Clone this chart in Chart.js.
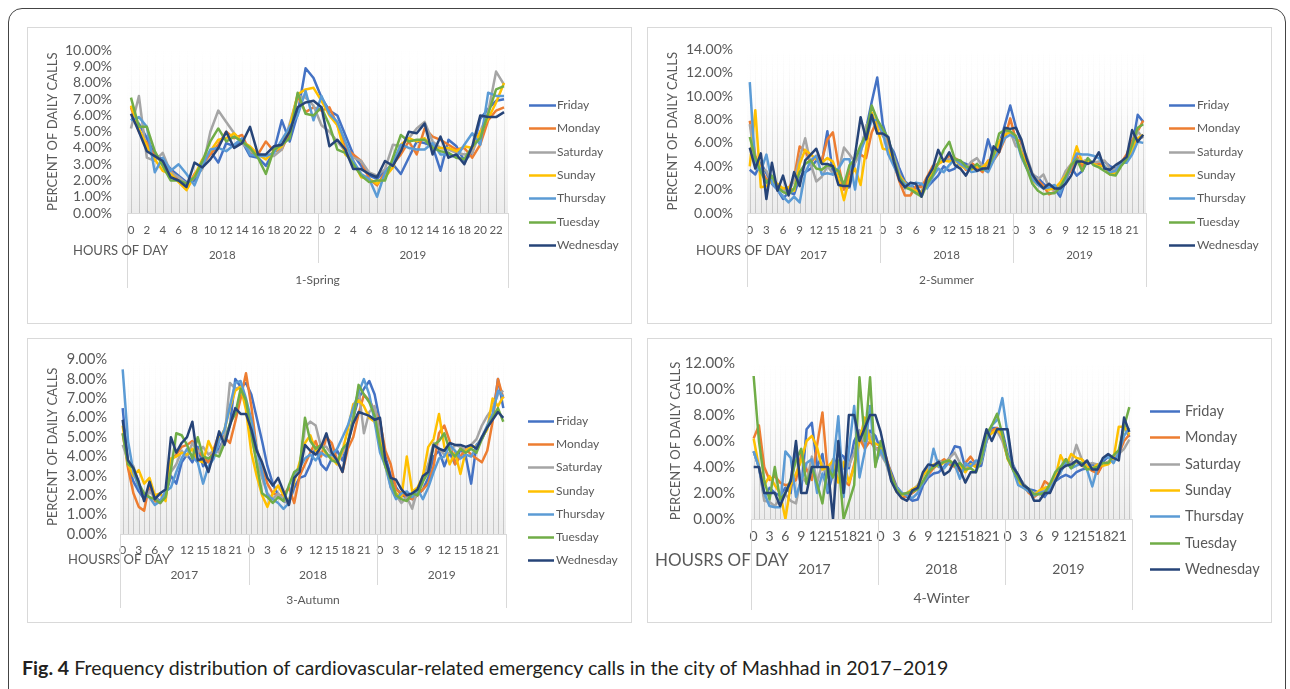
<!DOCTYPE html>
<html>
<head>
<meta charset="utf-8">
<script src="https://cdn.jsdelivr.net/npm/chart.js@4.4.1/dist/chart.umd.min.js"></script>
<style>
  html, body { margin: 0; padding: 0; background: #fff; }
  body { width: 1290px; height: 689px; position: relative; overflow: hidden; font-family: Lato, sans-serif; }
  .frame { position: absolute; left: 8px; top: 8px; width: 1276px; height: 720px; border: 1px solid #444; border-radius: 14px; }
  .panel { position: absolute; border: 1px solid #d9d9d9; box-sizing: border-box; background: #fff; }
  canvas { position: absolute; }
  .caption { position: absolute; left: 22px; top: 656px; font-size: 19.6px; line-height: 24px; color: #231f20; white-space: nowrap; }
</style>
</head>
<body>
<div class="frame"></div>
<div class="caption"><b>Fig. 4</b> Frequency distribution of cardiovascular-related emergency calls in the city of Mashhad in 2017–2019</div>
<script>
// series names and colours (Excel office palette)
var days = ['Friday', 'Monday', 'Saturday', 'Sunday', 'Thursday', 'Tuesday', 'Wednesday'];
var dayColors = ['#4472C4', '#ED7D31', '#A5A5A5', '#FFC000', '#5B9BD5', '#70AD47', '#264478'];

var hours = ['0','1','2','3','4','5','6','7','8','9','10','11','12','13','14','15','16','17','18','19','20','21','22','23'];
var springYears = ['2018', '2019'];
var otherYears = ['2017', '2018', '2019'];

// ---- 1-Spring (2018, 2019) ----
var springFri = [5.8,5.5,4.6,3.6,3.3,2.7,2.3,1.9,2.0,2.9,3.8,3.1,4.3,4.1,4.4,3.5,3.4,2.9,3.8,5.7,4.4,6.1,8.9,8.3,
                 7.1,6.3,6.0,4.8,3.6,2.9,2.3,2.1,2.6,3.0,2.4,3.4,4.4,4.3,4.1,2.6,4.5,4.1,3.2,3.7,5.8,6.4,6.9,7.0];
var springMon = [6.5,5.0,4.3,3.5,3.2,2.6,2.0,1.5,2.4,3.0,3.6,4.2,5.0,4.6,4.8,3.7,3.6,4.4,3.8,3.9,5.0,7.2,6.2,6.5,
                 6.3,6.5,5.4,4.0,3.6,3.2,2.1,1.7,2.5,3.0,3.6,4.4,3.6,5.2,4.7,4.5,4.2,3.9,4.0,3.4,4.2,5.7,6.3,6.5];
var springSat = [5.2,7.2,3.4,3.2,3.7,2.5,2.2,1.8,2.2,2.7,5.0,6.3,5.6,4.9,4.3,3.8,3.6,3.5,3.5,3.9,5.5,7.2,7.1,6.6,
                 5.4,5.0,4.4,3.8,3.4,3.2,2.5,2.3,2.7,4.2,4.1,4.6,5.2,5.6,4.4,4.0,3.9,3.7,3.6,3.7,5.0,6.2,8.7,7.9];
var springSun = [6.6,5.2,4.1,3.3,2.6,2.4,1.9,1.4,2.3,3.3,3.8,4.5,4.6,4.9,4.4,4.1,3.6,3.3,3.8,4.1,5.3,7.3,7.6,7.7,
                 6.9,6.0,5.4,3.6,3.2,2.2,2.1,1.8,2.2,2.8,4.2,4.6,4.4,4.6,4.0,4.0,4.0,3.8,4.1,4.0,5.0,5.8,6.8,8.0];
var springThu = [5.7,5.9,5.3,2.5,3.4,2.6,3.0,2.4,1.7,2.9,3.9,4.0,3.8,4.2,4.6,3.6,3.5,3.5,3.7,4.5,5.3,6.0,7.5,5.7,
                 7.2,6.1,5.6,4.4,3.2,2.4,2.1,1.0,2.5,3.1,4.2,4.0,3.9,3.9,4.3,3.6,3.6,3.4,4.2,4.9,4.2,7.4,7.2,7.2];
var springTue = [7.1,5.3,5.3,3.8,2.9,2.0,2.0,1.8,2.2,3.2,4.4,5.2,4.4,4.7,4.4,4.0,3.4,2.4,3.9,4.2,4.6,7.4,6.1,6.0,
                 6.5,5.4,3.9,3.7,3.0,2.3,1.9,2.0,2.0,3.4,4.8,4.4,4.5,4.5,4.0,3.8,3.7,3.4,3.3,4.1,4.6,6.1,7.6,7.8];
var springWed = [6.1,5.0,3.8,3.5,3.2,2.2,2.0,1.6,3.1,2.8,3.3,4.0,5.0,4.0,4.3,5.3,3.6,3.6,4.1,4.2,5.0,6.5,6.8,6.9,
                 6.5,4.1,4.5,3.9,2.7,2.7,2.4,2.2,3.2,2.9,3.8,5.0,4.9,5.5,3.6,4.7,3.4,3.6,3.0,4.1,6.0,5.9,5.9,6.2];

// ---- 2-Summer (2017, 2018, 2019) ----
var summerFri = [3.7,3.3,4.3,3.4,2.5,2.0,1.2,1.8,1.6,3.0,3.5,3.8,4.5,4.3,7.0,3.3,3.5,2.1,2.2,4.5,5.5,7.2,9.5,11.6,
                 7.6,6.0,5.2,3.8,2.7,2.3,2.1,2.5,2.2,2.7,3.2,4.0,3.6,3.8,4.4,4.2,3.9,3.7,4.2,6.3,4.8,5.8,7.5,9.2,
                 7.4,6.0,4.0,3.3,3.0,2.5,2.1,2.1,1.4,2.8,3.9,3.2,3.6,4.5,4.3,4.1,4.4,4.0,3.8,4.2,4.6,5.6,8.4,7.8];
var summerMon = [7.9,4.9,3.7,2.9,2.7,2.2,2.0,2.1,3.0,5.7,5.3,4.3,4.9,4.5,6.3,6.9,4.1,2.0,3.5,4.7,5.0,4.7,6.9,7.9,
                 6.6,6.1,4.2,2.7,1.5,1.5,2.3,2.2,3.1,4.0,4.2,4.5,4.9,4.7,4.4,3.7,4.3,3.9,3.5,4.5,4.5,5.2,6.3,8.1,
                 6.3,6.1,4.2,3.0,2.8,2.3,1.6,1.8,2.2,3.0,3.7,4.9,4.0,4.5,4.3,4.3,4.0,3.5,3.6,4.3,5.0,6.2,7.0,7.9];
var summerSat = [7.6,4.3,3.8,3.6,2.6,2.1,2.0,1.8,2.8,4.7,6.4,4.2,2.7,3.1,4.0,3.4,3.6,5.6,5.0,4.3,5.1,7.5,8.0,7.5,
                 7.0,5.5,4.8,3.4,2.1,2.4,1.7,1.9,2.5,3.8,4.2,4.5,4.6,4.6,4.1,3.8,4.4,4.7,4.0,4.3,4.6,5.6,6.9,7.0,
                 5.7,5.7,4.8,3.4,2.9,3.3,2.2,1.9,2.5,3.6,4.2,4.6,4.4,4.6,4.3,4.4,4.5,3.8,3.7,4.4,4.7,5.4,7.0,6.4];
var summerSun = [4.0,8.8,2.2,2.3,2.8,2.5,2.1,2.2,1.9,4.2,5.4,5.0,4.6,4.3,4.7,4.4,3.0,1.1,3.0,3.8,2.4,5.5,8.6,7.3,
                 5.5,5.4,4.3,3.2,2.6,2.1,1.9,1.7,2.7,3.5,4.2,4.5,4.4,4.5,4.1,3.8,3.7,4.0,3.9,4.4,4.8,6.1,6.7,6.9,
                 6.6,5.2,4.0,2.8,2.4,2.2,2.0,2.1,2.6,3.2,4.1,5.7,4.3,4.5,4.2,4.0,4.0,3.3,3.4,4.4,4.4,5.4,6.4,6.7];
var summerThu = [11.2,3.9,3.6,5.0,2.6,2.0,1.4,0.9,1.4,0.9,3.4,4.5,4.9,3.3,3.4,3.3,3.8,4.6,4.6,2.0,5.3,6.5,7.9,8.0,
                 6.8,5.0,4.0,3.0,2.5,2.3,2.6,2.5,2.1,3.1,3.8,3.5,4.1,4.6,4.2,3.9,3.5,3.6,3.8,3.5,4.5,5.4,6.4,6.7,
                 6.4,4.8,3.8,2.9,2.4,2.1,2.2,2.4,1.7,2.9,4.0,5.1,5.0,5.0,4.9,4.7,4.0,3.5,3.6,4.3,4.3,5.0,6.1,6.0];
var summerTue = [6.5,4.7,3.5,2.6,3.2,2.2,1.8,1.6,2.1,3.5,4.2,4.5,3.8,3.7,4.1,3.9,3.6,2.4,4.1,4.6,5.8,6.7,9.2,8.0,
                 7.2,6.4,4.6,3.1,2.2,2.0,1.7,1.4,2.5,3.2,4.3,5.4,6.1,4.6,4.5,4.0,3.8,4.2,3.7,3.9,5.0,6.8,7.1,7.0,
                 6.6,5.0,3.8,2.5,1.9,1.6,1.7,1.7,2.2,3.1,4.1,4.6,3.6,4.7,4.1,3.9,3.6,3.3,3.2,4.0,4.6,5.8,7.3,7.6];
var summerWed = [5.6,3.8,5.1,1.2,4.3,1.9,3.2,1.5,3.5,2.3,4.5,5.0,5.5,4.2,4.2,4.0,2.4,2.3,2.3,5.0,8.2,6.3,8.4,6.8,
                 6.8,6.5,4.4,2.8,2.2,2.6,2.5,1.4,3.0,3.8,5.4,4.4,5.2,4.1,3.8,3.2,4.1,3.6,3.8,3.8,5.7,5.2,7.3,7.2,
                 7.3,6.3,4.6,3.3,2.6,2.1,2.5,2.1,2.1,2.5,3.2,4.4,4.4,4.2,4.4,5.2,3.8,3.7,4.1,4.4,4.8,7.1,6.1,6.7];

// ---- 3-Autumn (2017, 2018, 2019) ----
var autumnFri = [6.5,3.5,2.7,2.2,1.8,2.4,1.9,1.7,2.0,3.0,2.6,3.7,4.1,3.7,4.5,3.5,3.8,4.2,4.4,5.0,5.6,8.0,7.6,7.8,
                 7.2,6.0,4.8,3.5,2.6,2.0,1.7,1.6,2.4,2.9,3.0,3.6,4.5,3.6,3.3,3.9,4.3,3.8,4.7,6.0,7.0,7.5,7.9,7.2,
                 5.8,4.0,3.0,2.4,2.0,1.9,1.8,2.0,2.3,2.9,4.0,4.3,3.5,4.2,3.6,4.4,4.0,2.6,4.6,4.9,5.5,6.0,8.0,6.5];
var autumnMon = [5.2,3.4,2.1,1.4,1.2,2.6,1.7,1.6,2.0,3.8,4.1,4.5,4.6,4.8,4.3,4.0,3.7,4.4,5.2,5.0,4.7,5.8,7.0,8.3,
                 6.6,4.4,3.5,2.6,2.1,2.0,2.0,2.4,1.6,3.0,3.6,4.2,4.8,4.0,5.0,4.7,3.8,3.2,4.4,5.0,6.2,7.2,6.9,6.4,
                 5.8,4.3,3.6,2.3,2.1,1.9,1.8,2.0,2.3,2.6,3.5,5.2,5.6,4.8,3.6,4.0,4.4,4.1,3.9,3.7,4.3,5.8,8.0,7.0];
var autumnSat = [4.6,3.8,3.5,2.6,1.8,2.2,1.9,1.6,2.1,3.2,3.6,4.3,4.0,4.7,4.2,4.5,4.1,4.3,4.2,5.0,7.8,7.5,7.6,6.8,
                 5.0,3.8,2.9,2.1,1.8,2.1,1.8,1.5,3.0,3.5,5.5,5.8,5.6,4.5,4.5,4.1,3.6,4.2,4.6,6.0,7.5,5.2,6.3,6.6,
                 5.1,3.8,2.4,2.0,1.6,1.9,1.3,2.3,2.9,3.6,4.7,4.4,4.1,4.2,4.6,4.5,4.3,4.6,4.9,5.6,6.1,6.5,7.2,7.4];
var autumnSun = [5.6,3.6,3.0,3.3,2.6,2.9,2.0,2.1,1.7,3.9,4.0,4.2,4.1,4.4,3.8,3.7,4.8,4.2,4.9,5.4,6.5,7.4,7.6,6.4,
                 4.2,3.0,2.0,1.4,2.1,2.5,2.0,1.7,2.7,3.7,4.7,5.1,4.3,4.6,4.1,3.9,3.6,4.3,5.4,6.7,6.9,6.6,6.0,5.8,
                 4.8,3.5,2.6,2.1,1.9,4.0,2.2,2.4,3.0,4.5,4.9,6.2,4.5,3.6,4.2,3.1,4.3,4.5,4.5,5.0,5.4,7.0,6.6,7.1];
var autumnThu = [8.5,4.8,3.2,2.4,2.0,1.9,1.5,1.7,2.2,2.4,3.2,3.9,4.4,4.0,3.7,2.6,3.5,3.9,4.8,5.4,6.6,7.8,7.9,7.0,
                 5.9,4.4,3.2,2.0,1.8,1.6,1.3,1.6,3.1,3.4,3.9,4.1,3.8,4.2,4.0,4.1,4.4,5.0,5.6,6.5,7.3,8.0,7.2,5.8,
                 4.2,3.5,2.4,1.8,2.1,2.2,1.9,2.3,1.8,2.4,3.2,3.9,4.0,4.6,4.3,3.9,4.1,4.0,4.5,5.0,5.6,6.2,7.4,7.1];
var autumnTue = [5.2,3.6,3.4,2.6,2.1,1.9,1.8,1.6,1.9,3.3,5.2,5.1,4.6,3.9,5.0,4.0,3.9,4.1,4.0,4.7,5.7,6.2,7.5,6.9,
                 5.2,3.6,2.1,1.9,1.6,1.9,1.7,2.5,3.2,3.4,6.0,4.8,4.4,4.6,4.2,3.8,3.7,4.4,4.7,5.9,7.7,7.2,6.8,6.1,
                 4.6,3.5,2.8,2.0,1.8,1.7,2.1,2.0,2.7,3.2,4.6,4.8,5.2,4.3,4.0,4.4,4.2,4.4,4.2,4.9,5.5,6.0,6.5,5.8];
var autumnWed = [5.9,3.8,3.4,2.7,1.7,2.7,1.8,2.1,2.3,5.0,4.2,4.7,5.0,5.8,3.8,3.9,3.2,4.2,5.3,4.6,5.6,6.5,6.2,6.2,
                 5.4,4.3,3.7,2.9,2.5,2.9,2.2,1.5,2.9,3.2,4.6,4.3,4.1,4.5,5.2,4.2,3.8,3.2,4.7,5.7,6.3,6.2,6.1,5.9,
                 6.0,3.8,2.9,2.8,2.3,2.0,2.1,2.3,3.0,3.2,4.6,4.4,4.3,4.7,4.6,4.6,4.5,4.6,4.4,5.0,5.5,5.9,6.3,6.0];

// ---- 4-Winter (2017, 2018, 2019) ----
var winterFri = [5.2,4.0,1.7,2.4,2.0,1.8,2.4,2.0,5.6,2.2,6.9,7.4,4.0,5.0,2.0,3.5,5.1,4.8,3.9,6.0,6.8,5.6,6.8,6.4,
                 5.3,4.6,3.6,2.5,2.0,1.7,1.4,1.5,2.6,3.2,3.5,3.6,4.0,4.7,5.6,5.5,3.9,4.4,4.0,4.1,6.0,7.0,7.0,6.8,
                 5.0,4.2,3.3,2.7,2.3,2.2,2.0,1.7,2.3,2.9,3.2,3.4,3.2,3.6,3.8,3.9,4.3,3.5,4.4,4.8,4.7,4.9,7.2,6.3];
var winterMon = [6.2,7.2,4.0,3.0,3.3,2.8,2.6,2.7,3.0,5.0,3.8,3.0,5.7,8.2,3.5,4.0,4.2,3.0,2.6,4.2,6.2,5.4,6.0,5.4,
                 5.5,4.8,3.4,2.4,1.6,1.8,2.0,2.3,2.8,3.4,3.9,4.3,4.6,4.2,4.0,3.7,4.3,4.8,4.2,4.6,6.0,6.8,7.0,6.4,
                 4.7,3.8,3.0,2.6,2.0,1.7,2.0,2.9,2.6,3.2,3.7,4.6,4.3,4.4,4.1,4.0,3.7,3.5,4.2,4.4,4.6,5.0,6.0,6.5];
var winterSat = [5.2,4.0,1.4,1.3,1.0,1.6,1.9,1.4,1.2,3.3,2.8,4.8,2.8,4.3,3.2,4.6,3.7,3.9,4.1,5.1,6.8,5.8,6.5,5.5,
                 5.0,4.3,3.0,2.4,1.9,2.0,2.2,2.6,3.3,4.0,4.1,4.5,4.3,4.7,5.1,4.3,3.9,4.2,4.3,4.5,6.2,6.6,6.8,6.0,
                 4.8,4.1,3.2,2.7,2.2,2.0,2.1,2.2,2.5,3.0,3.6,4.4,4.3,5.7,4.6,4.2,4.3,4.2,4.2,4.4,4.6,5.0,5.4,6.1];
var winterSun = [6.2,4.0,2.6,3.3,2.6,2.0,0.0,2.6,3.5,4.5,6.0,6.4,5.5,3.8,4.0,4.5,2.8,4.4,2.8,4.0,6.0,7.8,6.0,5.8,
                 5.6,4.4,3.3,2.1,1.8,2.0,2.3,2.5,3.4,3.8,4.2,4.0,4.4,4.5,4.2,4.1,3.6,4.2,4.0,4.4,6.3,6.6,6.9,6.4,
                 4.6,3.9,2.9,2.4,2.2,1.8,2.2,2.4,2.5,3.2,4.9,4.1,5.0,4.7,4.6,4.0,3.9,4.2,4.1,4.2,4.6,7.1,7.1,6.5];
var winterThu = [5.2,4.0,2.0,1.0,0.9,0.9,5.2,4.7,1.7,3.0,4.3,4.6,2.0,3.5,2.2,4.0,7.9,1.7,5.3,8.7,3.2,5.2,8.7,4.2,
                 5.3,4.4,3.2,2.4,2.0,1.8,1.6,2.0,2.8,3.4,5.4,4.0,3.9,4.4,4.2,3.1,4.3,4.0,4.5,4.4,6.0,7.2,7.6,9.3,
                 6.5,3.8,2.6,2.4,2.1,1.8,2.0,2.1,2.3,3.0,3.6,4.4,3.9,4.1,4.3,3.8,2.5,4.0,4.6,4.8,4.3,5.1,6.4,7.0];
var winterTue = [11.0,6.0,3.0,1.5,4.0,1.5,2.0,3.0,4.5,5.4,2.7,4.0,2.7,1.2,4.0,3.2,4.5,0.0,1.3,2.6,10.9,6.0,10.9,4.0,
                 6.0,4.6,3.3,2.3,1.9,2.0,2.1,2.3,2.9,3.6,4.0,4.2,4.4,4.5,4.1,4.3,3.8,3.9,3.6,4.6,6.5,7.2,8.1,6.5,
                 4.7,3.8,3.1,2.6,2.3,1.9,1.9,2.0,2.7,3.6,4.0,4.6,3.9,4.5,4.3,3.8,3.9,4.0,4.3,4.3,4.9,5.3,7.1,8.6];
var winterWed = [4.0,4.0,2.0,2.0,2.0,1.0,2.0,2.9,6.0,2.0,2.0,4.0,4.0,4.0,4.0,0.0,6.0,2.0,8.0,8.0,6.0,7.0,8.0,8.0,
                 6.7,4.8,2.9,2.1,1.6,1.4,2.2,2.4,3.6,4.2,4.1,4.4,3.4,3.7,4.5,3.8,2.8,3.6,3.6,5.3,6.9,6.0,6.9,6.9,
                 6.9,4.0,3.4,2.6,2.3,1.4,1.4,2.0,2.0,2.9,3.8,4.1,4.2,4.5,4.1,4.5,3.8,3.8,4.7,5.0,4.7,4.5,7.8,6.7];

var TXT = '#595959';

function excelLook(p) {
  return {
    id: 'excelLook',
    beforeDatasetsDraw: function (chart) {
      var ctx = chart.ctx, a = chart.chartArea, x = chart.scales.x;
      ctx.save();
      var bg = ctx.createLinearGradient(0, a.top, 0, a.bottom);
      bg.addColorStop(0, 'rgba(255,255,255,0)');
      bg.addColorStop(1, 'rgba(236,236,236,1)');
      ctx.fillStyle = bg;
      ctx.fillRect(a.left, a.top, a.right - a.left, a.bottom - a.top);
      var lg = ctx.createLinearGradient(0, a.top, 0, a.bottom);
      lg.addColorStop(0, 'rgba(195,195,195,0)');
      lg.addColorStop(0.3, 'rgba(195,195,195,0.15)');
      lg.addColorStop(0.65, 'rgba(195,195,195,0.6)');
      lg.addColorStop(1, 'rgba(195,195,195,0.95)');
      ctx.strokeStyle = lg;
      ctx.lineWidth = 1;
      chart.data.labels.forEach(function (lab, i) {
        var px = Math.round(x.getPixelForValue(i)) + 0.5;
        ctx.beginPath();
        ctx.moveTo(px, a.top);
        ctx.lineTo(px, a.bottom);
        ctx.stroke();
      });
      ctx.restore();
    },
    afterDraw: function (chart) {
      var ctx = chart.ctx, a = chart.chartArea, x = chart.scales.x;
      var n = p.years.length, per = chart.data.labels.length / n;
      function edge(k) {
        if (k === 0) return a.left;
        if (k === n) return a.right;
        return (x.getPixelForValue(k * per - 1) + x.getPixelForValue(k * per)) / 2;
      }
      ctx.save();
      ctx.strokeStyle = '#d9d9d9';
      ctx.lineWidth = 1;
      for (var k = 0; k <= n; k++) {
        var ex = Math.round(edge(k)) + 0.5;
        ctx.beginPath();
        ctx.moveTo(ex, a.bottom);
        ctx.lineTo(ex, (k === 0 || k === n) ? p.sepOuter : p.sepInner);
        ctx.stroke();
      }
      ctx.fillStyle = TXT;
      ctx.textBaseline = 'middle';
      ctx.textAlign = 'center';
      ctx.font = p.yearFont + 'px Lato';
      p.years.forEach(function (yr, k) {
        ctx.fillText(yr, (edge(k) + edge(k + 1)) / 2, p.yearY);
      });
      ctx.font = p.seasonFont + 'px Lato';
      ctx.fillText(p.season, (a.left + a.right) / 2, p.seasonY);
      ctx.textAlign = 'left';
      ctx.font = p.hoursFont + 'px Lato';
      ctx.fillText(p.hoursTitle, p.hoursX, p.hoursY);

      // legend on the right
      ctx.font = p.legFont + 'px Lato';
      chart.data.datasets.forEach(function (ds, i) {
        var ly = Math.round(p.legY + i * p.legDy) + 0.5;
        ctx.strokeStyle = ds.borderColor;
        ctx.lineWidth = 2.5;
        ctx.beginPath();
        ctx.moveTo(p.legX, ly);
        ctx.lineTo(p.legX + p.legLen, ly);
        ctx.stroke();
        ctx.fillStyle = TXT;
        ctx.fillText(ds.label, p.legTextX, ly);
      });
      ctx.restore();
    }
  };
}

function makePanel(p) {
  var box = document.createElement('div');
  box.className = 'panel';
  box.style.left = p.x + 'px';
  box.style.top = p.y + 'px';
  box.style.width = p.w + 'px';
  box.style.height = p.h + 'px';
  document.body.appendChild(box);

  var cv = document.createElement('canvas');
  cv.width = p.w;
  cv.height = p.h;
  cv.style.left = p.x + 'px';
  cv.style.top = p.y + 'px';
  document.body.appendChild(cv);

  var labels = [];
  p.years.forEach(function () { labels = labels.concat(hours); });

  var datasets = days.map(function (d, i) {
    return {
      label: d,
      data: p.series[i],
      borderColor: dayColors[i],
      backgroundColor: dayColors[i],
      borderWidth: 2.5,
      borderJoinStyle: 'round',
      pointRadius: 0,
      tension: 0,
      fill: false,
      order: days.length - i
    };
  });

  var xLabelHalf = p.xTickFont * 0.6;

  new Chart(cv.getContext('2d'), {
    type: 'line',
    data: { labels: labels, datasets: datasets },
    options: {
      responsive: false,
      animation: false,
      devicePixelRatio: 1,
      layout: { padding: { left: 0, top: p.area.top, right: p.w - p.area.right, bottom: 0 } },
      plugins: { legend: { display: false }, tooltip: { enabled: false } },
      scales: {
        x: {
          offset: true,
          afterFit: function (s) { s.height = p.h - p.area.bottom; },
          grid: { display: false, drawTicks: false },
          border: { display: true, color: '#d9d9d9', width: 1 },
          ticks: {
            autoSkip: false,
            maxRotation: 0,
            minRotation: 0,
            padding: p.tickY - p.area.bottom - xLabelHalf,
            color: TXT,
            font: { family: 'Lato', size: p.xTickFont },
            callback: function (v, i) { return i % p.step === 0 ? this.getLabelForValue(v) : ''; }
          }
        },
        y: {
          min: 0,
          max: p.yMax,
          afterFit: function (s) { s.width = p.area.left; },
          grid: { display: false, drawTicks: false },
          border: { display: false },
          ticks: {
            stepSize: p.yStep,
            autoSkip: false,
            padding: p.area.left - p.yTickRight,
            color: TXT,
            font: { family: 'Lato', size: p.yTickFont },
            callback: function (v) { return v.toFixed(2) + '%'; }
          },
          title: {
            display: true,
            text: 'PERCENT OF DAILY CALLS',
            color: TXT,
            font: { family: 'Lato', size: 13 },
            padding: { top: p.yTitleX - 7.8, bottom: 0 }
          }
        }
      }
    },
    plugins: [excelLook(p)]
  });
}

makePanel({
  x: 27, y: 27, w: 605, h: 297,
  area: { left: 100, top: 14, right: 481, bottom: 186 },
  years: springYears, season: '1-Spring', hoursTitle: 'HOURS OF DAY',
  series: [springFri, springMon, springSat, springSun, springThu, springTue, springWed],
  yMax: 10, yStep: 1, step: 2,
  yTickRight: 85, yTickFont: 14, yTitleX: 26,
  tickY: 203, xTickFont: 11.5,
  yearY: 228, yearFont: 11.5,
  hoursX: 46, hoursY: 224, hoursFont: 13,
  sepInner: 236, sepOuter: 261,
  seasonY: 253, seasonFont: 12,
  legX: 502, legLen: 27, legTextX: 530, legY: 78, legDy: 23.3, legFont: 12
});

makePanel({
  x: 647, y: 27, w: 625, h: 297,
  area: { left: 100, top: 14, right: 499, bottom: 186 },
  years: otherYears, season: '2-Summer', hoursTitle: 'HOURS OF DAY',
  series: [summerFri, summerMon, summerSat, summerSun, summerThu, summerTue, summerWed],
  yMax: 14, yStep: 2, step: 3,
  yTickRight: 86, yTickFont: 14, yTitleX: 26,
  tickY: 203, xTickFont: 11.5,
  yearY: 228, yearFont: 11.5,
  hoursX: 49, hoursY: 224, hoursFont: 13,
  sepInner: 236, sepOuter: 260,
  seasonY: 253, seasonFont: 12,
  legX: 522, legLen: 26, legTextX: 550, legY: 78, legDy: 23.3, legFont: 12
});

makePanel({
  x: 27, y: 338, w: 605, h: 285,
  area: { left: 93, top: 14, right: 479, bottom: 196 },
  years: otherYears, season: '3-Autumn', hoursTitle: 'HOUSRS OF DAY',
  series: [autumnFri, autumnMon, autumnSat, autumnSun, autumnThu, autumnTue, autumnWed],
  yMax: 9, yStep: 1, step: 3,
  yTickRight: 80, yTickFont: 14.5, yTitleX: 26,
  tickY: 212, xTickFont: 12,
  yearY: 237, yearFont: 12,
  hoursX: 41, hoursY: 222, hoursFont: 13,
  sepInner: 247, sepOuter: 270,
  seasonY: 262, seasonFont: 12,
  legX: 501, legLen: 26, legTextX: 529, legY: 83, legDy: 23.2, legFont: 12
});

makePanel({
  x: 647, y: 338, w: 625, h: 285,
  area: { left: 104, top: 12, right: 485, bottom: 181 },
  years: otherYears, season: '4-Winter', hoursTitle: 'HOUSRS OF DAY',
  series: [winterFri, winterMon, winterSat, winterSun, winterThu, winterTue, winterWed],
  yMax: 12, yStep: 2, step: 3,
  yTickRight: 88, yTickFont: 15, yTitleX: 29,
  tickY: 198, xTickFont: 14,
  yearY: 231, yearFont: 14,
  hoursX: 8, hoursY: 223, hoursFont: 17,
  sepInner: 247, sepOuter: 272,
  seasonY: 260, seasonFont: 14,
  legX: 503, legLen: 30, legTextX: 538, legY: 73, legDy: 26.3, legFont: 14.5
});
</script>
</body>
</html>
